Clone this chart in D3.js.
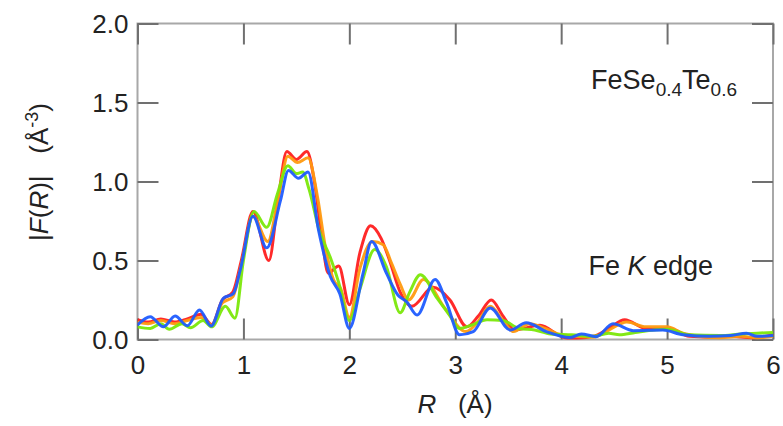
<!DOCTYPE html>
<html lang="en">
<head>
    <meta charset="UTF-8">
    <title>FeSe0.4Te0.6 Fe K edge |F(R)|</title>
    <script src="https://d3js.org/d3.v7.min.js"></script>
    <style>
        body {
            margin: 0;
            background: #fff;
            font-family: "Liberation Sans", Arial, Helvetica, sans-serif;
        }
        text { fill: #222; }
    </style>
</head>
<body>
    <div id="chart"></div>

    <script>
        // series: [R (Å), |F(R)| (Å^-3)]
        const redPts = [
            [0, 0.125], [0.1, 0.11], [0.22, 0.13], [0.35, 0.11], [0.47, 0.13], [0.6, 0.16], [0.7, 0.095],
            [0.8, 0.25], [0.9, 0.3], [0.98, 0.5], [1.09, 0.81], [1.24, 0.5], [1.33, 0.9], [1.41, 1.19],
            [1.5, 1.14], [1.6, 1.19], [1.67, 1.0], [1.74, 0.65], [1.8, 0.42], [1.9, 0.465], [2.0, 0.22],
            [2.1, 0.55], [2.2, 0.72], [2.3, 0.64], [2.38, 0.5], [2.48, 0.3], [2.59, 0.21], [2.79, 0.33],
            [2.95, 0.25], [3.11, 0.08], [3.22, 0.15], [3.34, 0.25], [3.45, 0.15], [3.56, 0.06], [3.8, 0.09],
            [4.0, 0.02], [4.08, 0.005], [4.3, 0.02], [4.45, 0.07], [4.6, 0.125], [4.8, 0.07], [5.02, 0.07],
            [5.21, 0.02], [5.4, 0.015], [5.6, 0.02], [5.8, 0.01], [6.0, 0.03]
        ];
        const orangePts = [
            [0, 0.11], [0.1, 0.1], [0.22, 0.12], [0.35, 0.1], [0.47, 0.12], [0.6, 0.14], [0.7, 0.09],
            [0.8, 0.23], [0.9, 0.27], [0.98, 0.47], [1.09, 0.78], [1.23, 0.62], [1.33, 0.9], [1.42, 1.16],
            [1.51, 1.12], [1.61, 1.15], [1.7, 0.9], [1.77, 0.6], [1.85, 0.38], [1.92, 0.32], [2.0, 0.14],
            [2.1, 0.45], [2.22, 0.62], [2.32, 0.6], [2.4, 0.48], [2.48, 0.35], [2.56, 0.25], [2.7, 0.38],
            [2.9, 0.2], [3.1, 0.05], [3.2, 0.1], [3.33, 0.21], [3.45, 0.12], [3.55, 0.05], [3.7, 0.1],
            [3.85, 0.07], [4.0, 0.03], [4.3, 0.015], [4.45, 0.06], [4.62, 0.11], [4.8, 0.08], [5.0, 0.08],
            [5.15, 0.04], [5.3, 0.02], [5.5, 0.01], [5.7, 0.02], [5.85, 0.01], [6.0, 0.02]
        ];
        const greenPts = [
            [0, 0.08], [0.12, 0.07], [0.22, 0.1], [0.3, 0.065], [0.42, 0.1], [0.5, 0.075], [0.62, 0.12],
            [0.7, 0.08], [0.83, 0.21], [0.92, 0.135], [1.0, 0.5], [1.1, 0.81], [1.22, 0.71], [1.32, 0.92],
            [1.42, 1.1], [1.5, 1.05], [1.56, 1.06], [1.62, 0.95], [1.72, 0.68], [1.82, 0.52], [1.9, 0.36],
            [2.0, 0.12], [2.1, 0.32], [2.24, 0.57], [2.35, 0.46], [2.48, 0.17], [2.57, 0.3], [2.67, 0.41],
            [2.83, 0.26], [2.95, 0.15], [3.04, 0.07], [3.15, 0.09], [3.3, 0.125], [3.45, 0.12], [3.6, 0.07],
            [3.75, 0.06], [3.9, 0.035], [4.1, 0.03], [4.3, 0.02], [4.45, 0.04], [4.55, 0.03], [4.7, 0.045],
            [5.0, 0.065], [5.2, 0.03], [5.5, 0.025], [5.7, 0.035], [5.85, 0.04], [6.0, 0.045]
        ];
        const bluePts = [
            [0, 0.092], [0.12, 0.144], [0.245, 0.08], [0.355, 0.149], [0.47, 0.087], [0.585, 0.187],
            [0.695, 0.085], [0.81, 0.26], [0.905, 0.29], [0.97, 0.44], [1.09, 0.78], [1.22, 0.58],
            [1.35, 0.88], [1.425, 1.07], [1.52, 1.02], [1.61, 1.06], [1.71, 0.69], [1.82, 0.4], [1.91, 0.29],
            [2.0, 0.07], [2.13, 0.42], [2.21, 0.62], [2.35, 0.42], [2.46, 0.28], [2.54, 0.24], [2.64, 0.155],
            [2.81, 0.38], [2.92, 0.23], [3.04, 0.03], [3.17, 0.05], [3.33, 0.2], [3.52, 0.06], [3.67, 0.106],
            [3.86, 0.05], [4.08, 0.012], [4.19, 0.035], [4.33, 0.018], [4.49, 0.1], [4.68, 0.056],
            [4.96, 0.06], [5.15, 0.03], [5.4, 0.02], [5.6, 0.025], [5.75, 0.04], [5.85, 0.02], [6.0, 0.025]
        ];

        const series = [
            { name: "red", color: "#ff1f1f", pts: redPts },
            { name: "orange", color: "#ff9a10", pts: orangePts },
            { name: "green", color: "#7be80a", pts: greenPts },
            { name: "blue", color: "#1f5cff", pts: bluePts }
        ];

        const xTicks = [0, 1, 2, 3, 4, 5, 6];
        const yTicks = [0.0, 0.5, 1.0, 1.5, 2.0];

        const width = 783, height = 426;
        const margin = { top: 23.5, right: 10, bottom: 86.5, left: 137.5 };
        const plotW = width - margin.left - margin.right;
        const plotH = height - margin.top - margin.bottom;
        const tickLen = 21;

        const svg = d3.select("#chart").append("svg")
            .attr("width", width)
            .attr("height", height);

        const x = d3.scaleLinear().domain([0, 6]).range([margin.left, margin.left + plotW]);
        const y = d3.scaleLinear().domain([0, 2]).range([margin.top + plotH, margin.top]);

        // clip curves to the frame
        svg.append("defs").append("clipPath").attr("id", "plotClip")
            .append("rect")
            .attr("x", x(0)).attr("y", y(2))
            .attr("width", plotW).attr("height", plotH);

        // frame
        svg.append("rect")
            .attr("x", x(0)).attr("y", y(2))
            .attr("width", plotW).attr("height", plotH)
            .attr("fill", "none")
            .attr("stroke", "#a8a8a8")
            .attr("stroke-width", 2);

        // ticks on all four sides, pointing inward
        const tickStyle = g => g.select(".domain").remove();
        const axisDefs = [
            d3.axisBottom(x).tickValues(xTicks).tickSize(-tickLen).tickFormat(d3.format("d")),
            d3.axisTop(x).tickValues(xTicks).tickSize(-tickLen).tickFormat(""),
            d3.axisLeft(y).tickValues(yTicks).tickSize(-tickLen).tickFormat(d3.format(".1f")),
            d3.axisRight(y).tickValues(yTicks).tickSize(-tickLen).tickFormat("")
        ];
        const axisPos = [
            `translate(0,${y(0)})`, `translate(0,${y(2)})`,
            `translate(${x(0)},0)`, `translate(${x(6)},0)`
        ];
        axisDefs.forEach((ax, i) => {
            const g = svg.append("g")
                .attr("transform", axisPos[i])
                .call(ax)
                .call(tickStyle);
            g.selectAll(".tick line")
                .attr("stroke", "#707070")
                .attr("stroke-width", 2);
            g.selectAll(".tick text")
                .attr("fill", "#222")
                .style("font-size", "26px")
                .style("font-family", "'Liberation Sans', Arial, sans-serif");
        });
        svg.selectAll("g .tick text").filter(function() {
            return this.parentNode.parentNode.getAttribute("transform") === axisPos[0];
        }).attr("y", 16);
        svg.selectAll("g .tick text").filter(function() {
            return this.parentNode.parentNode.getAttribute("transform") === axisPos[2];
        }).attr("x", -9).attr("dy", "0.36em");

        // curves
        const line = d3.line()
            .x(d => x(d[0]))
            .y(d => y(d[1]))
            .curve(d3.curveMonotoneX);

        svg.append("g").attr("clip-path", "url(#plotClip)")
            .selectAll("path")
            .data(series)
            .join("path")
            .attr("d", d => line(d.pts))
            .attr("fill", "none")
            .attr("stroke", d => d.color)
            .attr("stroke-width", 3)
            .attr("stroke-linejoin", "round")
            .attr("opacity", 0.95);

        // annotations
        const compound = svg.append("text")
            .attr("x", 737).attr("y", 89)
            .attr("text-anchor", "end")
            .style("font-size", "27px");
        compound.append("tspan").text("FeSe");
        compound.append("tspan").attr("dy", 7).style("font-size", "19px").text("0.4");
        compound.append("tspan").attr("dy", -7).text("Te");
        compound.append("tspan").attr("dy", 7).style("font-size", "19px").text("0.6");

        const edge = svg.append("text")
            .attr("x", 713).attr("y", 275)
            .attr("text-anchor", "end")
            .style("font-size", "27px");
        edge.append("tspan").text("Fe ");
        edge.append("tspan").style("font-style", "italic").text("K");
        edge.append("tspan").text(" edge");

        // axis titles
        const xTitle = svg.append("text")
            .attr("x", 455).attr("y", 413)
            .attr("text-anchor", "middle")
            .style("font-size", "26px");
        xTitle.append("tspan").style("font-style", "italic").text("R");
        xTitle.append("tspan").attr("xml:space", "preserve").text("\u00a0\u00a0\u00a0(\u00c5)");

        const yTitle = svg.append("text")
            .attr("transform", "translate(48,172) rotate(-90)")
            .attr("text-anchor", "middle")
            .style("font-size", "26px");
        yTitle.append("tspan").text("|");
        yTitle.append("tspan").style("font-style", "italic").text("F");
        yTitle.append("tspan").text("(");
        yTitle.append("tspan").style("font-style", "italic").text("R");
        yTitle.append("tspan").text(")|\u00a0\u00a0\u00a0(\u00c5");
        yTitle.append("tspan").attr("dy", -10).style("font-size", "18px").text("-3");
        yTitle.append("tspan").attr("dy", 10).text(")");
    </script>
</body>
</html>
